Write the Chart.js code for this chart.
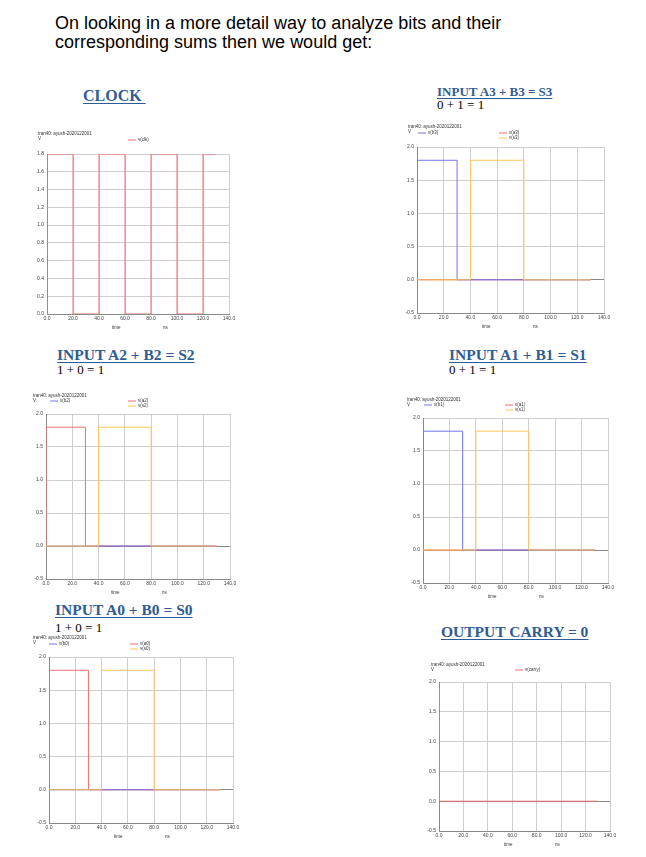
<!DOCTYPE html>
<html>
<head>
<meta charset="utf-8">
<script src="https://cdn.jsdelivr.net/npm/chart.js@4"></script>
<style>
body { margin: 0; background: #fff; width: 646px; height: 857px; position: relative; overflow: hidden; }
.t { position: absolute; white-space: nowrap; line-height: 1; }
.intro { left: 55px; top: 14px; font: 18px "Liberation Sans", Arial, sans-serif; line-height: 19px; color: #000; }
.h { font-family: "Liberation Serif", "Times New Roman", serif; font-weight: bold; color: #2f5c95;
     text-decoration: underline; text-decoration-thickness: 1px; text-underline-offset: 2px; }
.eq { font-family: "Liberation Serif", "Times New Roman", serif; font-size: 13px; color: #000; }
canvas { position: absolute; }
</style>
</head>
<body>
<div class="t intro">On looking in a more detail way to analyze bits and their<br>corresponding sums then we would get:</div>

<div class="t h" style="left:83px;top:88px;font-size:16px">CLOCK&nbsp;</div>
<div class="t h" style="left:437px;top:85px;font-size:13px">INPUT A3 + B3 = S3</div>
<div class="t eq" style="left:437px;top:98px">0 + 1 = 1</div>

<div class="t h" style="left:57px;top:347px;font-size:15.5px">INPUT A2 + B2 = S2</div>
<div class="t eq" style="left:57px;top:363px">1 + 0 = 1</div>
<div class="t h" style="left:449px;top:347px;font-size:15.5px">INPUT A1 + B1 = S1</div>
<div class="t eq" style="left:449px;top:363px">0 + 1 = 1</div>

<div class="t h" style="left:55px;top:602px;font-size:15.5px">INPUT A0 + B0 = S0</div>
<div class="t eq" style="left:55px;top:621px">1 + 0 = 1</div>
<div class="t h" style="left:441px;top:624px;font-size:15.5px">OUTPUT CARRY = 0</div>

<script>
// time axis (ns) and voltage axes
const timeRange = [0, 140];
const timeStep = 20;
const clkVoltRange = [0, 1.8];
const clkVoltStep = 0.2;
const sigVoltRange = [-0.5, 2.0];
const sigVoltStep = 0.5;

// clock
const tClk = [0, 0, 20, 40, 60, 80, 100, 120, 130];
const vClk = [0, 1.8, 0, 1.8, 0, 1.8, 0, 1.8, 1.8];

// bit 3 : 0 + 1 = 1
const tA3 = [0, 130];            const vA3 = [0, 0];
const tB3 = [0, 0, 30, 130];     const vB3 = [0, 1.8, 0, 0];
const tS3 = [0, 40, 80, 130];    const vS3 = [0, 1.8, 0, 0];

// bit 2 : 1 + 0 = 1
const tA2 = [0, 0, 30, 130];     const vA2 = [0, 1.8, 0, 0];
const tB2 = [0, 130];            const vB2 = [0, 0];
const tS2 = [0, 40, 80, 130];    const vS2 = [0, 1.8, 0, 0];

// bit 1 : 0 + 1 = 1
const tA1 = [0, 130];            const vA1 = [0, 0];
const tB1 = [0, 0, 30, 130];     const vB1 = [0, 1.8, 0, 0];
const tS1 = [0, 40, 80, 130];    const vS1 = [0, 1.8, 0, 0];

// bit 0 : 1 + 0 = 1
const tA0 = [0, 0, 30, 130];     const vA0 = [0, 1.8, 0, 0];
const tB0 = [0, 130];            const vB0 = [0, 0];
const tS0 = [0, 40, 80, 130];    const vS0 = [0, 1.8, 0, 0];

// carry out
const tCarry = [0, 0, 0.3, 130]; const vCarry = [0, 1.9, 0, 0];

const RED = "#ee6e6e", BLUE = "#7474ee", ORANGE = "#ffc55e";
const tiny = { family: "Liberation Sans, Arial, sans-serif", size: 5 };

// header, legend and axis words drawn like the spice viewer does
const spiceText = {
  id: "spiceText",
  afterDraw(chart) {
    const o = chart.options.plugins.spiceText;
    const a = chart.chartArea;
    const ctx = chart.ctx;
    ctx.save();
    ctx.fillStyle = "#333";
    ctx.font = "4.5px Liberation Sans, Arial, sans-serif";
    ctx.textBaseline = "middle";
    ctx.fillText("tran40: ayush-2020122001", a.left + o.head[0], a.top + o.head[1]);
    ctx.fillText("V", a.left + o.head[0], a.top + o.head[1] + 5);
    chart.data.datasets.forEach((ds, i) => {
      const p = o.legend[i];
      ctx.strokeStyle = ds.borderColor;
      ctx.lineWidth = 1;
      ctx.beginPath();
      ctx.moveTo(a.left + p[0], a.top + p[1]);
      ctx.lineTo(a.left + p[0] + 8, a.top + p[1]);
      ctx.stroke();
      ctx.fillText(ds.label, a.left + p[0] + 10, a.top + p[1]);
    });
    ctx.fillText("time", a.left + 65, a.bottom + 14);
    ctx.fillText("ns", a.left + 116, a.bottom + 14);
    ctx.restore();
  }
};

function scope(plot, yRange, yStep, series, head, legend) {
  const [L, T, R, B] = plot;
  const cv = document.createElement("canvas");
  cv.width = R - L + 40;
  cv.height = B - T + 60;
  cv.style.left = (L - 30) + "px";
  cv.style.top = (T - 30) + "px";
  document.body.appendChild(cv);
  const gridCol = c => (c.tick && c.tick.value === 0 ? "#8a8a8a" : "#cfcfcf");
  new Chart(cv, {
    type: "line",
    data: {
      datasets: series.map(s => ({
        label: s.label,
        data: s.t.map((x, i) => ({ x, y: s.v[i] })),
        borderColor: s.color,
        borderWidth: 1,
        stepped: "before",
        pointRadius: 0,
        fill: false
      }))
    },
    options: {
      responsive: false,
      animation: false,
      devicePixelRatio: 1,
      layout: { padding: { left: 0, top: 30, right: 10, bottom: 10 } },
      plugins: {
        legend: { display: false },
        tooltip: { enabled: false },
        spiceText: { head, legend }
      },
      scales: {
        x: {
          type: "linear",
          min: timeRange[0], max: timeRange[1],
          afterFit: s => { s.height = 20; },
          ticks: { stepSize: timeStep, font: tiny, color: "#444", padding: 2, maxRotation: 0,
                   callback: v => v.toFixed(1) },
          grid: { color: gridCol, drawTicks: false },
          border: { color: "#8a8a8a" }
        },
        y: {
          min: yRange[0], max: yRange[1],
          afterFit: s => { s.width = 30; },
          ticks: { stepSize: yStep, font: tiny, color: "#444", padding: 3,
                   callback: v => v.toFixed(1) },
          grid: { color: gridCol, drawTicks: false },
          border: { color: "#8a8a8a" }
        }
      }
    },
    plugins: [spiceText]
  });
}

scope([47, 154, 229, 314], clkVoltRange, clkVoltStep,
  [{ label: "v(clk)", t: tClk, v: vClk, color: RED }],
  [-9, -20], [[81, -14]]);

scope([417, 147, 604, 313], sigVoltRange, sigVoltStep,
  [{ label: "v(s3)", t: tS3, v: vS3, color: ORANGE },
   { label: "v(b3)", t: tB3, v: vB3, color: BLUE },
   { label: "v(a3)", t: tA3, v: vA3, color: RED }],
  [-9, -20], [[82, -9], [1, -14], [82, -14]]);

scope([46, 414, 230, 579], sigVoltRange, sigVoltStep,
  [{ label: "v(s2)", t: tS2, v: vS2, color: ORANGE },
   { label: "v(b2)", t: tB2, v: vB2, color: BLUE },
   { label: "v(a2)", t: tA2, v: vA2, color: RED }],
  [-13, -18], [[82, -8], [4, -13], [82, -13]]);

scope([423, 418, 608, 583], sigVoltRange, sigVoltStep,
  [{ label: "v(s1)", t: tS1, v: vS1, color: ORANGE },
   { label: "v(b1)", t: tB1, v: vB1, color: BLUE },
   { label: "v(a1)", t: tA1, v: vA1, color: RED }],
  [-16, -18], [[82, -8], [1, -13], [82, -13]]);

scope([49, 657, 233, 823], sigVoltRange, sigVoltStep,
  [{ label: "v(s0)", t: tS0, v: vS0, color: ORANGE },
   { label: "v(b0)", t: tB0, v: vB0, color: BLUE },
   { label: "v(a0)", t: tA0, v: vA0, color: RED }],
  [-16, -19], [[81, -8], [0, -13], [81, -13]]);

scope([439, 682, 610, 831], sigVoltRange, sigVoltStep,
  [{ label: "v(carry)", t: tCarry, v: vCarry, color: RED }],
  [-8, -17], [[76, -12]]);
</script>
</body>
</html>
